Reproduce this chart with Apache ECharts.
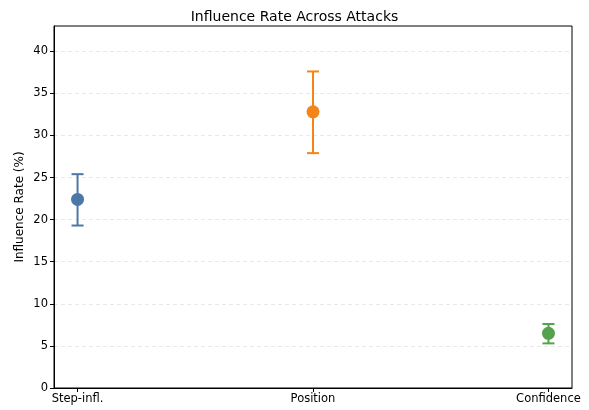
<!DOCTYPE html>
<html>
<head>
<meta charset="utf-8">
<script src="https://cdn.jsdelivr.net/npm/echarts@6/dist/echarts.min.js"></script>
<style>
  html, body { margin: 0; padding: 0; background: #fff; }
  #chart { width: 589px; height: 410px; }
</style>
</head>
<body>
<div id="chart"></div>
<script>
const categories = ['Step-infl.', 'Position', 'Confidence'];
const rates = [22.4, 32.8, 6.5];
const errLow = [19.3, 27.9, 5.3];
const errHigh = [25.4, 37.6, 7.6];
const colors = ['#4c78a8', '#f58518', '#54a24b'];
const yTicks = [0, 5, 10, 15, 20, 25, 30, 35, 40];

const font = 'DejaVu Sans';
const myChart = echarts.init(document.getElementById('chart'));

const errData = categories.map((c, i) => [i, errLow[i], errHigh[i]]);
const pointData = categories.map((c, i) => ({ value: [i, rates[i]], itemStyle: { color: colors[i], opacity: 1 } }));

const option = {
  animation: false,
  title: {
    text: 'Influence Rate Across Attacks',
    left: 'center',
    top: 5,
    textStyle: { fontFamily: font, fontSize: 14, fontWeight: 'normal', color: '#000' }
  },
  grid: { left: 54, right: 17, top: 26, bottom: 22, show: true, borderColor: '#000', borderWidth: 1 },
  xAxis: {
    type: 'value',
    min: -0.1,
    max: 2.1,
    axisLine: { show: true, onZero: false, lineStyle: { color: '#000' } },
    axisTick: { show: true, length: 4, customValues: [0, 1, 2], lineStyle: { color: '#000' } },
    axisLabel: {
      customValues: [0, 1, 2],
      fontFamily: font, fontSize: 11.5, color: '#000', margin: 5,
      formatter: (v) => categories[Math.round(v)]
    },
    splitLine: { show: false }
  },
  yAxis: {
    type: 'value',
    min: 0,
    max: 43,
    name: 'Influence Rate (%)',
    nameLocation: 'middle',
    nameGap: 28,
    nameMoveOverlap: false,
    nameTextStyle: { fontFamily: font, fontSize: 12, color: '#000' },
    axisLine: { show: true, onZero: false, lineStyle: { color: '#000' } },
    axisTick: { show: true, length: 4, customValues: yTicks, lineStyle: { color: '#000' } },
    axisLabel: { customValues: yTicks, fontFamily: font, fontSize: 11.5, color: '#000', margin: 6 },
    splitLine: { show: true, showMinLine: false, lineStyle: { color: '#e3e3e3', type: [4, 3], width: 0.8 } }
  },
  series: [
    {
      type: 'custom',
      data: errData,
      z: 2,
      renderItem: function (params, api) {
        const i = api.value(0);
        const lo = api.coord([i, api.value(1)]);
        const hi = api.coord([i, api.value(2)]);
        const w = 6;
        const style = { stroke: colors[params.dataIndex], lineWidth: 2 };
        return {
          type: 'group',
          children: [
            { type: 'line', shape: { x1: lo[0], y1: lo[1], x2: hi[0], y2: hi[1] }, style },
            { type: 'line', shape: { x1: hi[0] - w, y1: hi[1], x2: hi[0] + w, y2: hi[1] }, style },
            { type: 'line', shape: { x1: lo[0] - w, y1: lo[1], x2: lo[0] + w, y2: lo[1] }, style }
          ]
        };
      }
    },
    {
      type: 'scatter',
      data: pointData,
      symbolSize: 13,
      itemStyle: { opacity: 1 },
      z: 3
    }
  ]
};

myChart.setOption(option);
</script>
</body>
</html>
